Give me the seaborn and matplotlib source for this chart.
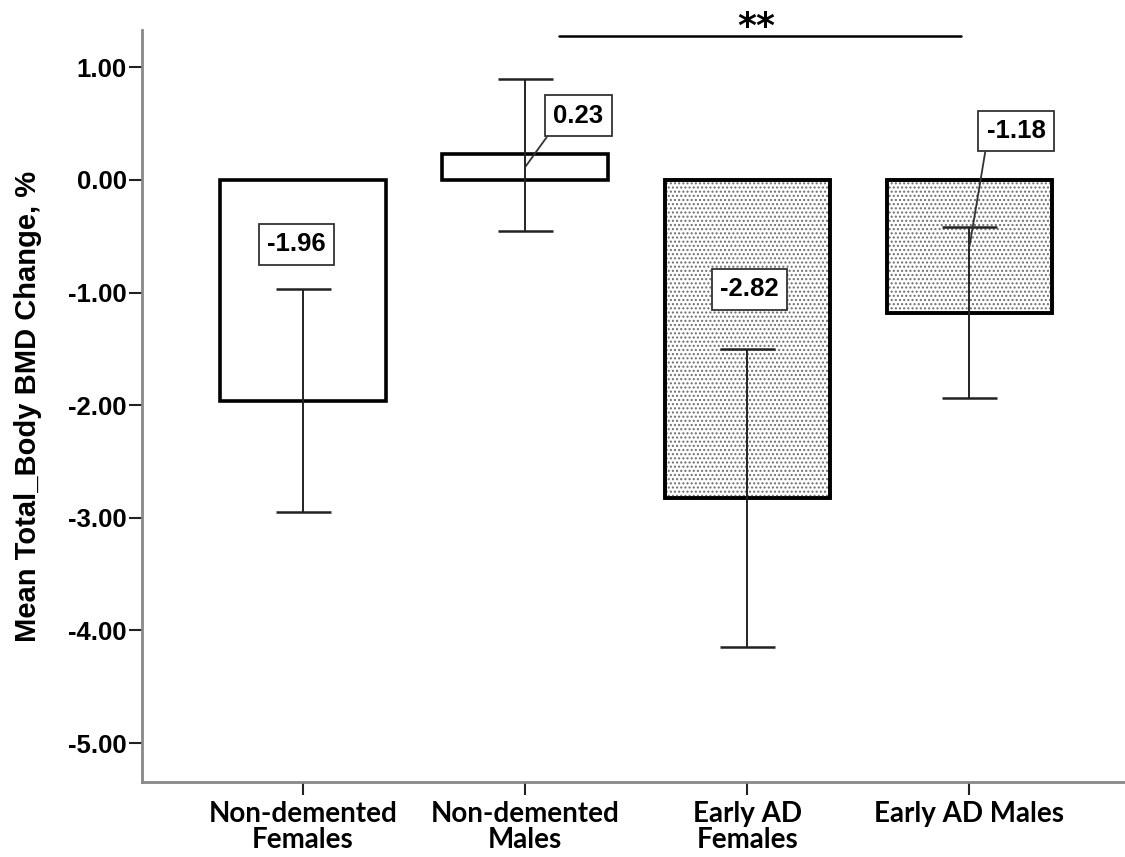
import numpy as np
import pandas as pd
import seaborn as sns
import matplotlib.pyplot as plt
from matplotlib.patches import Rectangle
from matplotlib.ticker import FixedLocator, FixedFormatter

# ---- data ----
categories = ["Non-demented\nFemales", "Non-demented\nMales", "Early AD\nFemales", "Early AD Males"]
means = [-1.96, 0.23, -2.82, -1.18]
ci_upper = [-0.97, 0.90, -1.50, -0.42]
ci_lower = [-2.95, -0.45, -4.15, -1.94]
value_labels = ["-1.96", "0.23", "-2.82", "-1.18"]
patterned = [False, False, True, True]
y_ticks = [1.0, 0.0, -1.0, -2.0, -3.0, -4.0, -5.0]
y_tick_labels = ["1.00", "0.00", "-1.00", "-2.00", "-3.00", "-4.00", "-5.00"]
sig_text = "**"

sns.set_theme(style="white")
plt.rcParams['font.family'] = ['Liberation Sans', 'DejaVu Sans']
plt.rcParams['hatch.linewidth'] = 1.0
plt.rcParams['text.color'] = 'black'
plt.rcParams['axes.labelcolor'] = 'black'
plt.rcParams['xtick.color'] = 'black'
plt.rcParams['ytick.color'] = 'black'

fig = plt.figure(figsize=(11.25, 8.57), dpi=100)
ax = fig.add_axes([0.1262, 0.0875, 0.8738, 0.8775])

df = pd.DataFrame({"group": categories, "mean": means})
sns.barplot(data=df, x="group", y="mean", order=categories, errorbar=None,
            width=0.745, color="white", saturation=1, edgecolor="black",
            linewidth=2.6, ax=ax, zorder=2)

# dotted pattern for Early AD bars
for p, pat in zip(ax.patches, patterned):
    if pat:
        hx = Rectangle(p.get_xy(), p.get_width(), p.get_height(), fill=False,
                       hatch='....', edgecolor='#6e6e6e', linewidth=0, zorder=2.1)
        ax.add_patch(hx)
        br = Rectangle(p.get_xy(), p.get_width(), p.get_height(), fill=False,
                       edgecolor='black', linewidth=2.6, zorder=2.2)
        ax.add_patch(br)

x = np.arange(len(categories))
m = np.array(means)
lo = np.array(ci_lower)
hi = np.array(ci_upper)
ax.errorbar(x, m, yerr=[m - lo, hi - m], fmt='none', ecolor='#222222',
            elinewidth=1.4, capsize=19.8, capthick=1.8, zorder=3)

# value label boxes
box_pos = [(-0.03, -0.57), (1.24, 0.57), (2.01, -0.97), (3.21, 0.435)]
leader = [False, True, False, True]
for i, (txt, (bx, by), ld) in enumerate(zip(value_labels, box_pos, leader)):
    bbox = dict(boxstyle='square,pad=0.33', fc='white', ec='#333333', lw=1.3)
    if ld:
        ax.annotate(txt, xy=(i, means[i] / 2), xytext=(bx, by), ha='center', va='center',
                    fontsize=18.5, fontweight='bold', bbox=bbox, zorder=4,
                    arrowprops=dict(arrowstyle='-', color='#333333', lw=1.3,
                                    relpos=(0, 0), shrinkA=0, shrinkB=0))
    else:
        ax.text(bx, by, txt, ha='center', va='center', fontsize=18.5,
                fontweight='bold', bbox=bbox, zorder=4)

# significance bar
ax.plot([1.15, 2.96], [1.28, 1.28], color='black', lw=1.8, clip_on=False, zorder=4)
ax.text(2.04, 1.355, sig_text, ha='center', va='center', fontsize=26,
        family='DejaVu Sans', fontweight='bold', clip_on=False)

ax.set_xlim(-0.725, 3.70)
ax.set_ylim(-5.346, 1.332)
ax.yaxis.set_major_locator(FixedLocator(y_ticks))
ax.yaxis.set_major_formatter(FixedFormatter(y_tick_labels))
for lab in ax.get_yticklabels():
    lab.set_fontsize(18.5)
    lab.set_fontweight('bold')
for lab in ax.get_xticklabels():
    lab.set_fontsize(20)
    lab.set_fontweight('bold')
    lab.set_family(['Lato', 'DejaVu Sans'])
    lab.set_linespacing(1.0)

ax.tick_params(axis='both', direction='out', length=9.5, width=1.5, color='#222222',
               left=True, bottom=True)
ax.tick_params(axis='y', pad=1.5)
ax.tick_params(axis='x', pad=4)
for s in ['top', 'right']:
    ax.spines[s].set_visible(False)
for s in ['left', 'bottom']:
    ax.spines[s].set_color('#888888')
    ax.spines[s].set_linewidth(2)

ax.set_xlabel("")
ax.set_ylabel("Mean Total_Body BMD Change, %", fontsize=21, fontweight='bold')
ax.yaxis.set_label_coords(-0.102, 0.5)

fig.savefig("out.png", dpi=100)
